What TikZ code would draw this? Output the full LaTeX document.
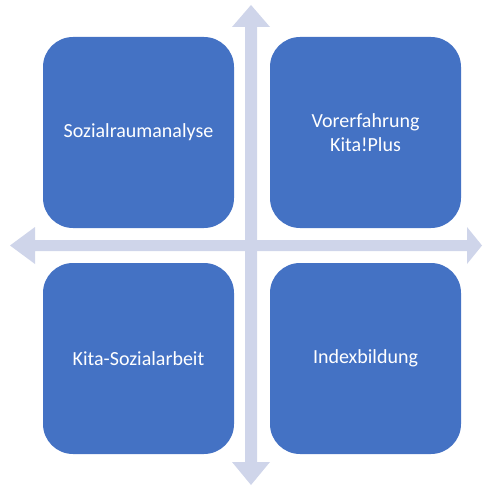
\documentclass[tikz,border=0pt]{standalone}
\usepackage{fontspec}
\setmainfont{Carlito}
\definecolor{boxblue}{HTML}{4472C4}
\definecolor{arrowlav}{HTML}{CFD5EA}
\begin{document}
\begin{tikzpicture}[x=1pt,y=-1pt,
  quad/.style={fill=boxblue, draw=none, rounded corners=30pt, minimum width=191pt, minimum height=191pt, text=white, font=\fontsize{20}{24}\selectfont, align=center, inner sep=0pt}]
\useasboundingbox (0,0) rectangle (482,487);
% vertical double arrow
\fill[arrowlav] (251,5) -- (270,27) -- (257,27) -- (257,462) -- (270,462) -- (251,485) -- (232,462) -- (245,462) -- (245,27) -- (232,27) -- cycle;
% horizontal double arrow
\fill[arrowlav] (10,245.5) -- (35,227) -- (35,240) -- (467,240) -- (467,227) -- (482,245.5) -- (467,264) -- (467,251) -- (35,251) -- (35,264) -- cycle;
\node[quad] (a) at (138.5,132.5) {Sozialraumanalyse};
\node[quad] (b) at (365.5,132.5) {Vorerfahrung\\Kita!Plus};
\node[quad] (c) at (138.5,358.5) {Kita-Sozialarbeit};
\node[quad] (d) at (365.5,358.5) {Indexbildung};
\end{tikzpicture}
\end{document}
